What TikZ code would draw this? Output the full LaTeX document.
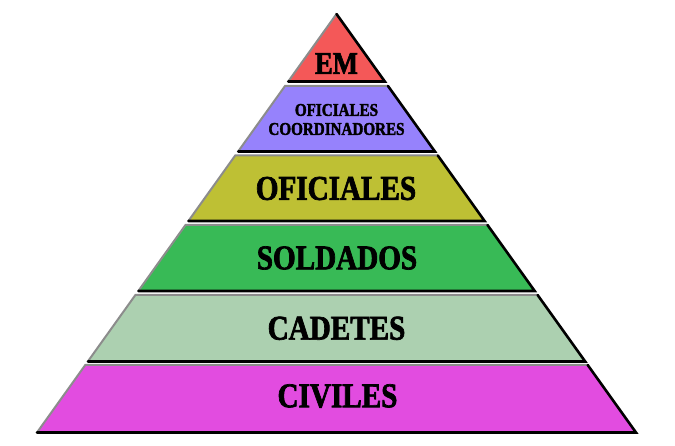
\documentclass[tikz,border=0pt]{standalone}
\usepackage{fontspec}
\usepackage{tikz}
\usetikzlibrary{calc}
\newfontfamily\stencilfont{Liberation Serif}[FakeStretch=0.84,FakeBold=2]
\definecolor{TierRed}{RGB}{244,88,88}
\definecolor{TierLilac}{RGB}{150,130,252}
\definecolor{TierOlive}{RGB}{190,192,52}
\definecolor{TierGreen}{RGB}{56,186,86}
\definecolor{TierSage}{RGB}{172,208,176}
\definecolor{TierPink}{RGB}{226,76,224}
\tikzset{
  lit/.style={draw=black!45,line width=2pt,line cap=round},
  shade/.style={draw=black,line width=2.6pt,line cap=round},
  lab/.style={inner sep=0pt,font=\stencilfont\bfseries\fontsize{34.7}{36}\selectfont},
}
\tikzset{smalllab/.style={inner sep=0pt,align=center,font=\stencilfont\bfseries\fontsize{18}{19}\selectfont}}

\begin{document}
\begin{tikzpicture}[x=1pt,y=-1pt]
\useasboundingbox (0,0) rectangle (675,446);
% corners of the tiers
\coordinate (em-t) at (336.5,14);
\coordinate (em-bl) at (288.2,81.5);
\coordinate (em-br) at (384.8,81.5);
\coordinate (oc-tl) at (285.0,86);
\coordinate (oc-tr) at (388.0,86);
\coordinate (oc-bl) at (238.1,151.5);
\coordinate (oc-br) at (434.9,151.5);
\coordinate (of-tl) at (235.2,155.5);
\coordinate (of-tr) at (437.8,155.5);
\coordinate (of-bl) at (188.4,221);
\coordinate (of-br) at (484.6,221);
\coordinate (so-tl) at (185.5,225);
\coordinate (so-tr) at (487.5,225);
\coordinate (so-bl) at (138.3,291);
\coordinate (so-br) at (534.7,291);
\coordinate (ca-tl) at (135.4,295);
\coordinate (ca-tr) at (537.6,295);
\coordinate (ca-bl) at (87.8,361.5);
\coordinate (ca-br) at (585.2,361.5);
\coordinate (ci-tl) at (85.3,365);
\coordinate (ci-tr) at (587.7,365);
\coordinate (ci-bl) at (37,432.5);
\coordinate (ci-br) at (636,432.5);
% fills
\fill[TierRed] (em-t)--(em-br)--(em-bl)--cycle;
\fill[TierLilac] (oc-tl)--(oc-tr)--(oc-br)--(oc-bl)--cycle;
\fill[TierOlive] (of-tl)--(of-tr)--(of-br)--(of-bl)--cycle;
\fill[TierGreen] (so-tl)--(so-tr)--(so-br)--(so-bl)--cycle;
\fill[TierSage] (ca-tl)--(ca-tr)--(ca-br)--(ca-bl)--cycle;
\fill[TierPink] (ci-tl)--(ci-tr)--(ci-br)--(ci-bl)--cycle;
% bevel edges
\draw[lit] (em-bl)--(em-t);
\draw[lit] (oc-bl)--(oc-tl)--(oc-tr);
\draw[lit] (of-bl)--(of-tl)--(of-tr);
\draw[lit] (so-bl)--(so-tl)--(so-tr);
\draw[lit] (ca-bl)--(ca-tl)--(ca-tr);
\draw[lit] (ci-bl)--(ci-tl)--(ci-tr);
\draw[shade] (em-t)--(em-br)--(em-bl);
\draw[shade] (oc-tr)--(oc-br)--(oc-bl);
\draw[shade] (of-tr)--(of-br)--(of-bl);
\draw[shade] (so-tr)--(so-br)--(so-bl);
\draw[shade] (ca-tr)--(ca-br)--(ca-bl);
\draw[shade] (ci-tr)--(ci-br)--(ci-bl);
% labels
\node[lab,font=\stencilfont\bfseries\fontsize{31.7}{33}\selectfont] (em) at (336.5,63.5) {EM};
\node[smalllab] (oc) at (336.5,119.5) {OFICIALES\\COORDINADORES};
\node[lab] (of) at (336,188.5) {OFICIALES};
\node[lab] (so) at (337,258) {SOLDADOS};
\node[lab] (ca) at (336.5,328.3) {CADETES};
\node[lab] (ci) at (337.5,396) {CIVILES};
\end{tikzpicture}
\end{document}
